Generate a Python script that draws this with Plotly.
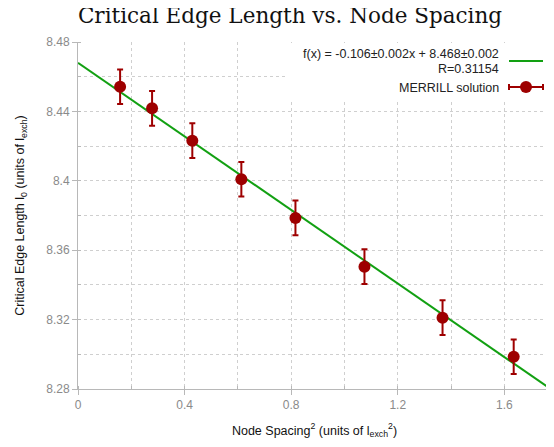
import plotly.graph_objects as go

# Data
node_spacing_sq = [0.158, 0.278, 0.429, 0.613, 0.816, 1.075, 1.368, 1.635]
edge_length = [8.4542, 8.4418, 8.4231, 8.4009, 8.3786, 8.3505, 8.3211, 8.2986]
edge_error = [0.01, 0.01, 0.01, 0.01, 0.01, 0.01, 0.01, 0.01]

fit_slope = -0.106
fit_intercept = 8.468
fit_x = [0.0, 1.8]
fit_y = [fit_intercept + fit_slope * x for x in fit_x]

x_ticks = [0, 0.4, 0.8, 1.2, 1.6]
y_ticks = [8.28, 8.32, 8.36, 8.40, 8.44, 8.48]

RED = "#9e0000"
GREEN = "#12a012"
GRID = "#cfcfcf"
AXIS = "#b8b8b8"
TICKFONT = dict(family="Liberation Sans, Arial, sans-serif", size=12, color="#8a8a8a")

fig = go.Figure()
fig.add_trace(go.Scatter(
    x=fit_x, y=fit_y, mode="lines",
    line=dict(color=GREEN, width=2), showlegend=False, hoverinfo="skip"))
fig.add_trace(go.Scatter(
    x=node_spacing_sq, y=edge_length, mode="markers",
    marker=dict(color=RED, size=12, line=dict(width=0)),
    error_y=dict(type="data", array=edge_error, color=RED, thickness=2, width=3),
    showlegend=False))

# page body has an 8px margin, so layout is offset to land at the reference positions
OFF = 8
W, H = 554, 447
# plot area on screen: x 78..551, y 42..389
L = 78 - OFF
T = 42 - OFF
pw, ph = 473, 347
R = W - L - pw
B = H - T - ph

def px(xs):
    return (xs - OFF - L) / pw

def py(ys):
    return (T + ph - (ys - OFF)) / ph

shapes = [
    # legend background
    dict(type="rect", xref="paper", yref="paper", x0=px(288), x1=px(548), y0=py(100), y1=py(43),
         fillcolor="white", line=dict(width=0), layer="above"),
    # green sample
    dict(type="line", xref="paper", yref="paper", x0=px(509), x1=px(543), y0=py(61), y1=py(61),
         line=dict(color=GREEN, width=2), layer="above"),
    # red sample line with caps
    dict(type="line", xref="paper", yref="paper", x0=px(509), x1=px(543), y0=py(87), y1=py(87),
         line=dict(color=RED, width=2), layer="above"),
    dict(type="line", xref="paper", yref="paper", x0=px(509), x1=px(509), y0=py(84), y1=py(90),
         line=dict(color=RED, width=2), layer="above"),
    dict(type="line", xref="paper", yref="paper", x0=px(543), x1=px(543), y0=py(84), y1=py(90),
         line=dict(color=RED, width=2), layer="above"),
    dict(type="circle", xref="paper", yref="paper", x0=px(520), x1=px(532), y0=py(93), y1=py(81),
         fillcolor=RED, line=dict(width=0), layer="above"),
]

LEGFONT = dict(family="Liberation Sans, Arial, sans-serif", size=12.5, color="#222222")
annotations = [
    dict(text="f(x) = -0.106±0.002x + 8.468±0.002", xref="paper", yref="paper",
         x=px(501), y=py(54), xanchor="right", yanchor="middle", showarrow=False, font=LEGFONT),
    dict(text="R=0.31154", xref="paper", yref="paper",
         x=px(501), y=py(69), xanchor="right", yanchor="middle", showarrow=False, font=LEGFONT),
    dict(text="MERRILL solution", xref="paper", yref="paper",
         x=px(501), y=py(88), xanchor="right", yanchor="middle", showarrow=False, font=LEGFONT),
]

fig.update_layout(
    width=W, height=H,
    margin=dict(l=L, r=R, t=T, b=B, autoexpand=False),
    paper_bgcolor="white", plot_bgcolor="white",
    title=dict(text="Critical Edge Length vs. Node Spacing", x=(290 - OFF) / W, xref="container",
               xanchor="center", y=1 - (15 - OFF) / H, yref="container", yanchor="middle",
               automargin=False,
               font=dict(family="DejaVu Serif, serif", size=21.5, color="#111111")),
    shapes=shapes, annotations=annotations,
    xaxis=dict(range=[0, 1.775], tickvals=x_ticks, ticktext=[f"{v:g}" for v in x_ticks],
               automargin=False,
               showgrid=True, gridcolor=GRID, griddash="dot", gridwidth=1,
               showline=True, linecolor=AXIS, linewidth=1, zeroline=False,
               ticks="outside", ticklen=5, tickcolor=AXIS, tickfont=TICKFONT,
               minor=dict(dtick=0.2, showgrid=True, gridcolor=GRID, griddash="dot",
                          ticks="inside", ticklen=3, tickcolor=AXIS),
               title=dict(text="Node Spacing<sup>2</sup> (units of l<sub>exch</sub><sup>2</sup>)",
                          font=dict(family="Liberation Sans, Arial, sans-serif", size=12.5, color="#111111"),
                          standoff=14)),
    yaxis=dict(range=[8.28, 8.48], tickvals=y_ticks, ticktext=[f"{v:g}" for v in y_ticks],
               automargin=False,
               showgrid=True, gridcolor=GRID, griddash="dot", gridwidth=1,
               showline=True, linecolor=AXIS, linewidth=1, zeroline=False,
               ticks="outside", ticklen=5, tickcolor=AXIS, tickfont=TICKFONT,
               minor=dict(dtick=0.02, showgrid=True, gridcolor=GRID, griddash="dot",
                          ticks="inside", ticklen=3, tickcolor=AXIS),
               title=dict(text="Critical Edge Length l<sub>0</sub> (units of l<sub>exch</sub>)",
                          font=dict(family="Liberation Sans, Arial, sans-serif", size=12.5, color="#111111"),
                          standoff=18)),
)

fig.write_html("out.html")
